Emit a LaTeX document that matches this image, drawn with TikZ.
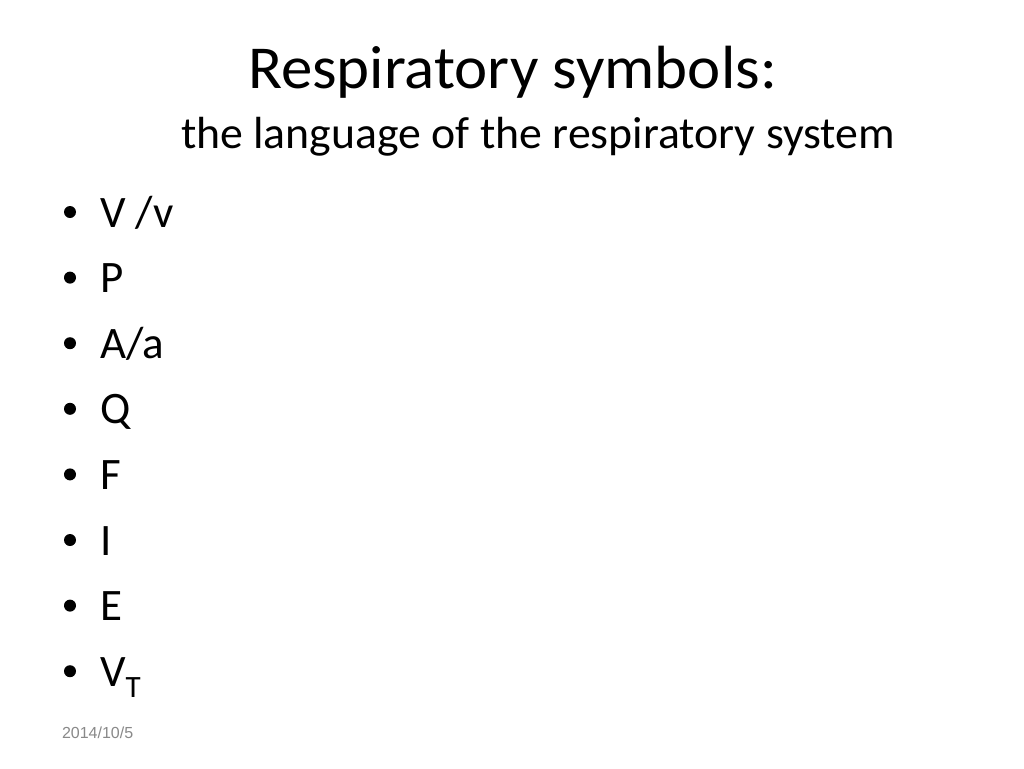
\documentclass[tikz,border=0pt]{standalone}
\usepackage{fontspec}
\setmainfont{Carlito}
\newfontfamily\datefont{Liberation Sans}
\definecolor{dategray}{HTML}{898989}
\begin{document}
\begin{tikzpicture}[x=1pt,y=-1pt,
  txt/.style={anchor=base west,inner sep=0pt,outer sep=0pt},
  item/.style={txt,font=\fontsize{45}{54}\selectfont},
  dot/.style={circle,fill=black,inner sep=0pt,minimum size=12pt}]
\useasboundingbox[fill=white] (0,0) rectangle (1024,768);
\node[txt,font=\fontsize{61}{72}\selectfont] (title) at (248,88) {\scalebox{1.03}[1]{Respiratory symbols:}};
\node[txt,font=\fontsize{45}{54}\selectfont] (sub) at (181,148) {\scalebox{1.017}[1]{the language of the respiratory system}};
\foreach \t [count=\i] in {V /v,P,A/a,Q,F,I,E,{V\raisebox{-0.24em}{\fontsize{31}{36}\selectfont T}}}{
  \pgfmathsetmacro{\yb}{227+(\i-1)*65.6}
  \node[dot] (b\i) at (70,\yb-15) {};
  \node[item] (t\i) at (100,\yb) {\t};
}
\node[txt,font=\datefont\fontsize{16}{19}\selectfont,text=dategray] (date) at (62,738) {2014/10/5};
\end{tikzpicture}
\end{document}
